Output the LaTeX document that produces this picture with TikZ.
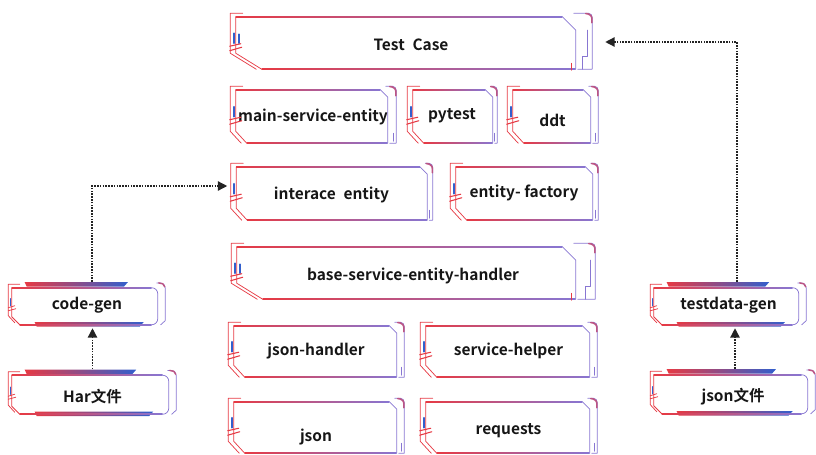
\documentclass[tikz,border=0pt]{standalone}
\usepackage{fontspec}
\setmainfont{Noto Sans CJK SC}[BoldFont={Noto Sans CJK SC Bold}]
\usetikzlibrary{calc,arrows.meta}

\definecolor{fr}{RGB}{230,58,68}
\definecolor{fp}{RGB}{136,118,210}
\definecolor{fb}{RGB}{50,95,205}
\definecolor{ink}{RGB}{22,22,22}
\definecolor{flowc}{RGB}{35,35,35}

\tikzset{
  lbl/.style={font=\bfseries\fontsize{11.6}{14}\selectfont, text=ink, inner sep=0pt},
  edge/.style={line width=0.55pt, line join=round, line cap=round},
  flow/.style={draw=flowc, line width=1pt, dash pattern=on 1.2pt off 0.9pt,
    -{Triangle[length=7pt,width=7pt]}},
}

% labelled box: name, centre x, centre y, width, height (px), text drop (px), text
\newcommand\bx[7]{%
  \node[lbl, minimum width={#4*0.75pt}, minimum height={#5*0.75pt}] (#1) at (#2,#3)
    {\raisebox{\dimexpr-#6pt*3/4\relax}[\height][\depth]{#7}};}

% frame of a module box: name, width, height, right gap, lower-left chamfer
\newcommand\mframe[5]{%
  \begin{scope}[shift={(#1.north west)}, edge]
    \pgfmathsetmacro\fW{#2}\pgfmathsetmacro\fH{#3}
    \pgfmathsetmacro\fR{#2-#4}\pgfmathsetmacro\fT{0.4*#5+3}
    \pgfmathsetmacro\fD{0.27*#5+9}\pgfmathsetmacro\fB{#3-2.5}
    \pgfmathsetmacro\fM{#3/2}
    % inner outline
    \shade[left color=fr, right color=fp] (7,3.65) rectangle (\fR-\fT,4.35);
    \draw[fp] (\fR-\fT,4) -- (\fR,4+\fT) -- (\fR,\fB);
    \shade[left color=fr, right color=fp] (7+#5,\fB-0.35) rectangle (\fR,\fB+0.35);
    \draw[fr] (7+#5,\fB) -- (7,\fB-\fD) -- (7,4) -- (12,4);
    % outer brackets
    \draw[fr] (14,0.6) -- (1.5,0.6) -- (1.5,\fB-\fD) -- (1.5+#5,\fB);
    \draw[fp] (\fR-2,0.6) -- (\fW-4,0.6) to[out=0,in=90] (\fW-0.6,4.5)
      -- (\fW-0.6,\fB) -- (\fR+2,\fB);
    \draw[fr!55!fp, line width=1.2pt] (\fW-7,0.8) to[out=0,in=90] (\fW-0.8,6) -- (\fW-0.8,10);
    \ifdim #4pt>12pt
      \draw[fp] (\fW-5,4+\fT) -- (\fW-5,\fB-13) -- (\fW-10,\fB-13) -- (\fW-10,\fB);
      \draw[fr] (\fR-4,\fB-6) -- (\fR-4,\fB+1);
      \draw[fb, line width=1.2pt] (10,\fM-8) -- (10,\fM+1);
    \else
      \draw[fp] (\fW-3.5,\fB-10) -- (\fW-3.5,\fB-2);
    \fi
    % left ornament
    \draw[fb, line width=1.3pt] (5,\fM-9) -- (5,\fM+1);
    \draw[fr, line width=0.8pt] (1,\fM+4) -- (12,\fM+1.5) (1,\fM+8.5) -- (13,\fM+5);
  \end{scope}}

% frame of a generator / input box: name, width, height
\newcommand\sframe[3]{%
  \begin{scope}[shift={(#1.north west)}, edge]
    \pgfmathsetmacro\fW{#2}\pgfmathsetmacro\fH{#3}\pgfmathsetmacro\fM{#3/2}
    \pgfmathsetmacro\fE{0.76*#2}\pgfmathsetmacro\fF{0.86*#2}
    % thick gradient bars
    \shade[left color=fr, middle color=fp, right color=fb]
      (17,0.5) -- (\fE,0.5) -- (\fE-4,5) -- (19,5) -- cycle;
    \shade[left color=fr, middle color=fp, right color=fb]
      (27,\fH-5.5) -- (\fF,\fH-5.5) -- (\fF-4,\fH-1) -- (29,\fH-1) -- cycle;
    % thin outline
    \shade[left color=fr, right color=fp] (4,5.65) rectangle (\fW-14,6.35);
    \draw[fp] (\fW-14,6) to[out=0,in=90] (\fW-8,12) -- (\fW-8,\fH-9)
      to[out=-90,in=0] (\fW-14,\fH-3);
    \shade[left color=fr, right color=fp] (12,\fH-3.35) rectangle (\fW-14,\fH-2.65);
    \draw[fr] (12,\fH-3) -- (4,\fH-11) -- (4,6);
    % outer brackets
    \draw[fr] (12,2.5) -- (0.6,2.5) -- (0.6,\fH-12) -- (7,\fH-5);
    \draw[fp] (\fW-9,1.2) -- (\fW-5,1.2) to[out=0,in=90] (\fW-0.6,6)
      -- (\fW-0.6,\fH-7) -- (\fW-5,\fH-3);
    \draw[fr!55!fp, line width=1.1pt] (\fW-7,1.2) to[out=0,in=90] (\fW-1,5);
    % left ornament
    \draw[fb, line width=0.9pt] (2.5,\fM-6) -- (2.5,\fM+1);
    \draw[fr] (0.5,\fM+3) -- (7,\fM+1) (0.5,\fM+6) -- (8,\fM+4);
  \end{scope}}

\begin{document}
\begin{tikzpicture}[x=0.75pt, y=-0.75pt]
\useasboundingbox (0,0) rectangle (816,454);

% module stack
\bx{tc}{411}{42.5}{364}{59}{2.5}{Test\hspace{0.5em}Case}
\bx{mse}{313}{116}{168}{60}{1}{main-service-entity}
\bx{pyt}{452}{116}{92}{60}{0}{pytest}
\bx{ddt}{552.5}{116}{93}{60}{4}{ddt}
\bx{ie}{331.5}{193}{204}{60}{2}{interace\hspace{0.5em}entity}
\bx{ef}{524}{193}{150}{60}{0}{entity- factory}
\bx{bse}{413}{272.5}{366}{59}{3}{base-service-entity-handler}
\bx{jh}{316}{351}{178}{58}{0}{json-handler}
\bx{sh}{508.5}{351}{179}{58}{0}{service-helper}
\bx{js}{316}{427}{178}{58}{10}{json}
\bx{rq}{508.5}{427}{179}{58}{4}{requests}

\mframe{tc}{364}{59}{17}{26}
\mframe{mse}{168}{60}{9}{11}
\mframe{pyt}{92}{60}{5}{11}
\mframe{ddt}{93}{60}{8}{11}
\mframe{ie}{204}{60}{6}{11}
\mframe{ef}{150}{60}{6}{11}
\mframe{bse}{366}{59}{20}{26}
\mframe{jh}{178}{58}{8}{11}
\mframe{sh}{179}{58}{8}{11}
\mframe{js}{178}{58}{8}{11}
\mframe{rq}{179}{58}{8}{11}

% generators and their inputs
\bx{cg}{87}{305}{158}{46}{0}{code-gen}
\bx{har}{92.5}{393.5}{169}{48}{3}{Har文件}
\bx{tdg}{728.5}{305}{157}{46}{0}{testdata-gen}
\bx{jf}{733}{393}{166}{48}{4}{json文件}

\sframe{cg}{158}{46}
\sframe{har}{169}{48}
\sframe{tdg}{157}{46}
\sframe{jf}{166}{48}

% flows
\coordinate (cgtop) at ($(cg.north)+(5,0)$);
\coordinate (tdgtop) at ($(tdg.north)+(8.5,0)$);
\coordinate (jftop) at ($(jf.north)+(2,0)$);
\draw[flow] (cgtop) |- ($(ie.west)+(-2,-7)$);
\draw[flow] (har.north) -- (har.north |- cg.south);
\draw[flow] (tdgtop) |- ($(tc.east)+(12,-0.5)$);
\draw[flow] (jftop) -- (jftop |- tdg.south);
\end{tikzpicture}
\end{document}
